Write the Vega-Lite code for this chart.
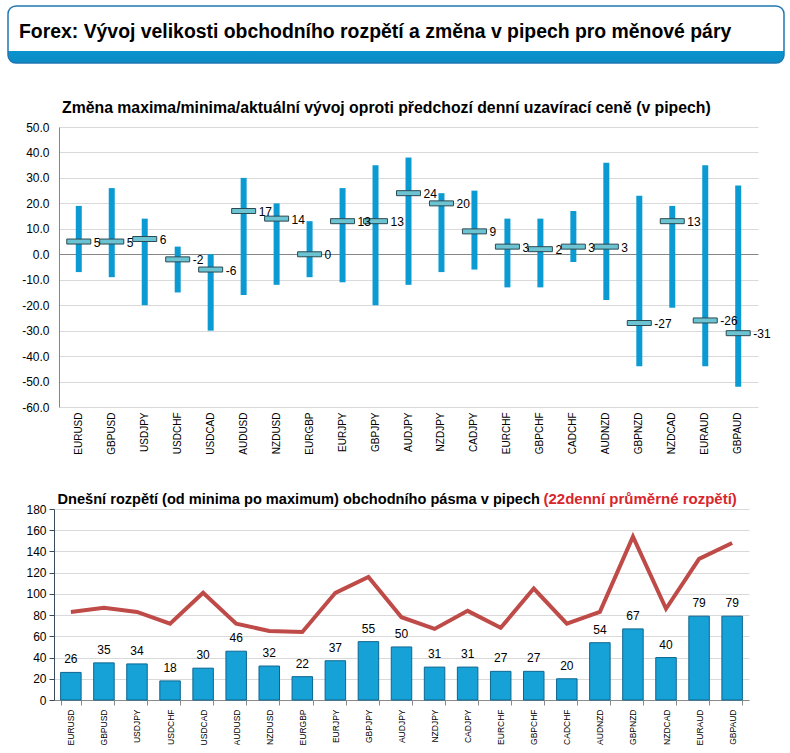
{
  "$schema": "https://vega.github.io/schema/vega-lite/v6.json",
  "background": "white",
  "padding": {"left": 7, "top": 5, "right": 5, "bottom": 0},
  "autosize": {"type": "pad"},
  "config": {
    "view": {"stroke": null},
    "font": "Liberation Sans",
    "axis": {"labelFont": "Liberation Sans", "titleFont": "Liberation Sans"},
    "locale": {"number": {"decimal": ".", "thousands": ",", "grouping": [3], "currency": ["$", ""], "minus": "-"}}
  },
  "datasets": {
    "fx": [
      {"pair": "EURUSD", "max": 19, "min": -7, "cur": 5, "range": 26, "avg": 83},
      {"pair": "GBPUSD", "max": 26, "min": -9, "cur": 5, "range": 35, "avg": 87},
      {"pair": "USDJPY", "max": 14, "min": -20, "cur": 6, "range": 34, "avg": 83},
      {"pair": "USDCHF", "max": 3, "min": -15, "cur": -2, "range": 18, "avg": 72},
      {"pair": "USDCAD", "max": 0, "min": -30, "cur": -6, "range": 30, "avg": 101},
      {"pair": "AUDUSD", "max": 30, "min": -16, "cur": 17, "range": 46, "avg": 72},
      {"pair": "NZDUSD", "max": 20, "min": -12, "cur": 14, "range": 32, "avg": 65},
      {"pair": "EURGBP", "max": 13, "min": -9, "cur": 0, "range": 22, "avg": 64},
      {"pair": "EURJPY", "max": 26, "min": -11, "cur": 13, "range": 37, "avg": 101},
      {"pair": "GBPJPY", "max": 35, "min": -20, "cur": 13, "range": 55, "avg": 116},
      {"pair": "AUDJPY", "max": 38, "min": -12, "cur": 24, "range": 50, "avg": 78},
      {"pair": "NZDJPY", "max": 24, "min": -7, "cur": 20, "range": 31, "avg": 67},
      {"pair": "CADJPY", "max": 25, "min": -6, "cur": 9, "range": 31, "avg": 84},
      {"pair": "EURCHF", "max": 14, "min": -13, "cur": 3, "range": 27, "avg": 68},
      {"pair": "GBPCHF", "max": 14, "min": -13, "cur": 2, "range": 27, "avg": 105},
      {"pair": "CADCHF", "max": 17, "min": -3, "cur": 3, "range": 20, "avg": 72},
      {"pair": "AUDNZD", "max": 36, "min": -18, "cur": 3, "range": 54, "avg": 83},
      {"pair": "GBPNZD", "max": 23, "min": -44, "cur": -27, "range": 67, "avg": 154},
      {"pair": "NZDCAD", "max": 19, "min": -21, "cur": 13, "range": 40, "avg": 86},
      {"pair": "EURAUD", "max": 35, "min": -44, "cur": -26, "range": 79, "avg": 133},
      {"pair": "GBPAUD", "max": 27, "min": -52, "cur": -31, "range": 79, "avg": 148}
    ]
  },
  "spacing": 36,
  "vconcat": [
    {
      "width": 776,
      "height": 57,
      "view": {
        "fill": {"gradient": "linear", "x1": 0, "y1": 0, "x2": 0, "y2": 1,
          "stops": [{"offset": 0, "color": "#ffffff"}, {"offset": 0.79, "color": "#ffffff"}, {"offset": 0.79, "color": "#0a93cd"}, {"offset": 1, "color": "#0a8cc6"}]},
        "stroke": "#1f77b4",
        "strokeWidth": 1.5,
        "cornerRadius": 8
      },
      "data": {"values": [{"t": "Forex: Vývoj velikosti obchodního rozpětí a změna v pipech pro měnové páry"}]},
      "mark": {"type": "text", "align": "left", "baseline": "alphabetic", "fontSize": 19.4, "fontWeight": "bold", "color": "#000000", "dx": -377, "dy": 3.5},
      "encoding": {"text": {"field": "t", "type": "nominal"}}
    },
    {
      "spacing": 0,
      "hconcat": [
        {
          "width": 1, "height": 1,
          "data": {"values": [{"s": ""}]},
          "mark": {"type": "text"},
          "encoding": {"text": {"field": "s", "type": "nominal"}}
        },
        {
          "width": 699,
          "height": 280,
          "title": {
            "text": "Změna maxima/minima/aktuální vývoj oproti předchozí denní uzavírací ceně (v pipech)",
            "anchor": "start", "frame": "group", "dx": 3, "offset": 4, "fontSize": 15.8, "fontWeight": "bold", "color": "#000000"
          },
          "data": {"name": "fx"},
          "encoding": {
            "x": {"field": "pair", "type": "nominal", "sort": null, "title": null,
              "scale": {"paddingInner": 0.3, "paddingOuter": 0.25},
              "axis": {"labelAngle": -90, "labelFontSize": 10, "labelColor": "#000000", "domain": false, "ticks": false, "labelPadding": 5, "grid": false}}
          },
          "layer": [
            {
              "mark": {"type": "bar", "size": 6, "color": "#0b9ad2"},
              "encoding": {
                "y": {"field": "max", "type": "quantitative", "title": "",
                  "scale": {"domain": [-60, 50], "nice": false},
                  "axis": {"values": [-60, -50, -40, -30, -20, -10, 0, 10, 20, 30, 40, 50], "tickCount": 12, "format": ".1f", "labelOverlap": false, "labelFontSize": 12, "labelColor": "#000000", "tickSize": 0, "tickColor": "#ffffff", "labelPadding": 10, "domainColor": "#868686", "gridColor": {"condition": {"test": "datum.value === 0", "value": "#868686"}, "value": "#d9d9d9"}, "minExtent": 50}},
                "y2": {"field": "min"}
              }
            },
            {
              "mark": {"type": "tick", "size": 24, "thickness": 5, "color": "#6cc4d2", "stroke": "#2c4a52", "strokeWidth": 1, "opacity": 1},
              "encoding": {"y": {"field": "cur", "type": "quantitative"}}
            },
            {
              "mark": {"type": "text", "align": "left", "baseline": "middle", "dx": 15, "dy": 1, "fontSize": 12, "color": "#000000"},
              "encoding": {"y": {"field": "cur", "type": "quantitative"}, "text": {"field": "cur", "type": "nominal"}}
            }
          ]
        }
      ]
    },
    {
      "spacing": 0,
      "hconcat": [
        {
          "width": 1, "height": 1,
          "data": {"values": [{"s": ""}]},
          "mark": {"type": "text"},
          "encoding": {"text": {"field": "s", "type": "nominal"}}
        },
        {
          "width": 695,
          "height": 191,
          "data": {"name": "fx"},
          "encoding": {
            "x": {"field": "pair", "type": "nominal", "sort": null,
              "title": "(22denní průměrné rozpětí)",
              "scale": {"paddingInner": 0.38, "paddingOuter": 0.2},
              "axis": {"labelAngle": -90, "labelFontSize": 8.5, "labelColor": "#000000", "domainColor": "#8a8a8a", "tickColor": "#8a8a8a", "tickBand": "extent", "tickSize": 5, "labelPadding": 4, "grid": false,
                "titleAngle": 0, "titleAlign": "left", "titleBaseline": "alphabetic", "titleX": 489, "titleY": -197, "titleColor": "#d9262c", "titleFontSize": 15, "titleFontWeight": "bold"}}
          },
          "layer": [
            {
              "mark": {"type": "bar", "color": "#16a2d7", "stroke": "#0d6690", "strokeWidth": 1},
              "encoding": {
                "y": {"field": "range", "type": "quantitative",
                  "title": "Dnešní rozpětí (od minima po maximum) obchodního pásma v pipech",
                  "scale": {"domain": [0, 180], "nice": false},
                  "axis": {"values": [0, 20, 40, 60, 80, 100, 120, 140, 160, 180], "tickCount": 10, "labelOverlap": false, "labelFontSize": 12, "labelColor": "#000000", "tickSize": 5, "tickColor": "#3b4b5e", "domainColor": "#3b4b5e", "gridColor": "#d9d9d9", "labelPadding": 3, "minExtent": 45,
                    "titleAngle": 0, "titleAlign": "left", "titleBaseline": "alphabetic", "titleX": 3, "titleY": -6, "titleColor": "#000000", "titleFontSize": 14.6, "titleFontWeight": "bold"}}
              }
            },
            {
              "mark": {"type": "text", "baseline": "bottom", "dy": -6, "fontSize": 12, "color": "#000000"},
              "encoding": {"y": {"field": "range", "type": "quantitative"}, "text": {"field": "range", "type": "quantitative"}}
            },
            {
              "mark": {"type": "line", "color": "#bf4b48", "strokeWidth": 4},
              "encoding": {"y": {"field": "avg", "type": "quantitative"}}
            }
          ]
        }
      ]
    }
  ]
}
